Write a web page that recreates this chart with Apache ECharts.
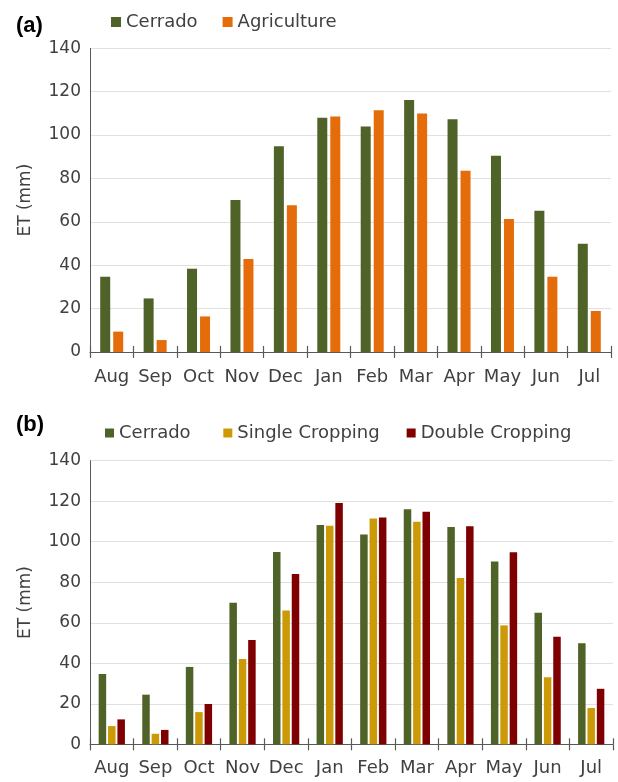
<!DOCTYPE html>
<html>
<head>
<meta charset="utf-8">
<script src="https://cdn.jsdelivr.net/npm/echarts@6/dist/echarts.min.js"></script>
<style>
html,body{margin:0;padding:0;background:#fff;}
#chart{width:618px;height:782px;}
</style>
</head>
<body>
<div id="chart"></div>
<script>
var months = ['Aug','Sep','Oct','Nov','Dec','Jan','Feb','Mar','Apr','May','Jun','Jul'];
var yTicks = [0,20,40,60,80,100,120,140];

// Panel (a)
var cerradoA = [34.7, 24.7, 38.4, 70.1, 94.8, 108.0, 103.9, 116.2, 107.3, 90.5, 65.1, 49.9];
var agriculture = [9.4, 5.5, 16.4, 42.9, 67.6, 108.6, 111.4, 110.0, 83.6, 61.3, 34.7, 18.9];

// Panel (b)
var cerradoB = [34.7, 24.5, 38.2, 69.9, 94.9, 108.2, 103.6, 116.0, 107.3, 90.3, 65.0, 49.9];
var singleCropping = [9.0, 5.2, 15.9, 42.1, 66.1, 107.9, 111.5, 109.9, 82.1, 58.7, 33.1, 17.9];
var doubleCropping = [12.3, 7.1, 19.9, 51.5, 84.1, 119.1, 112.0, 114.8, 107.7, 94.8, 53.1, 27.4];

var FONT = 'DejaVu Sans';
var C_GREEN = '#4f6228', C_ORANGE = '#e46c0a', C_YELLOW = '#cc9a06', C_RED = '#7f0000';
var TXT = '#404040';
var AXIS = '#595959';

function yAxis(gi){
  return {
    type:'value', gridIndex:gi, min:yTicks[0], max:yTicks[yTicks.length-1], interval:20,
    name:'ET (mm)', nameLocation:'middle', nameRotate:90, nameGap:56,
    nameTextStyle:{fontFamily:FONT,fontSize:17,color:TXT},
    axisLine:{show:true,lineStyle:{color:AXIS,width:1}},
    axisTick:{show:false},
    axisLabel:{fontFamily:FONT,fontSize:17,color:TXT,margin:9},
    splitLine:{show:true,lineStyle:{color:'#e0e0e0',width:1}}
  };
}
function xAxisMain(gi, margin){
  return {
    type:'category', gridIndex:gi, data:months, boundaryGap:true,
    axisLine:{show:true,lineStyle:{color:AXIS,width:1.2}},
    axisTick:{show:true,alignWithLabel:false,length:6,lineStyle:{color:AXIS,width:1.2}},
    axisLabel:{fontFamily:FONT,fontSize:18,color:TXT,margin:margin,interval:0},
    splitLine:{show:false}
  };
}
function xAxisInner(gi){
  return {
    type:'category', gridIndex:gi, data:months, boundaryGap:true, position:'bottom',
    axisLine:{show:false},
    axisTick:{show:true,inside:true,length:6,lineStyle:{color:AXIS,width:1.2}},
    axisLabel:{show:false},
    splitLine:{show:false}
  };
}

var option = {
  animation:false,
  backgroundColor:'#fff',
  textStyle:{fontFamily:FONT},
  grid:[
    {left:90, top:48.3, width:521, height:303.7},
    {left:90, top:460.7, width:523, height:283.6}
  ],
  legend:[
    {left:106, top:8, itemWidth:10, itemHeight:10, itemGap:25, icon:'rect',
     textStyle:{fontFamily:FONT,fontSize:18,color:TXT},
     data:['Cerrado','Agriculture']},
    {left:100, top:419, itemWidth:9, itemHeight:9, itemGap:27, icon:'rect',
     textStyle:{fontFamily:FONT,fontSize:18,color:TXT},
     data:['Cerrado ','Single Cropping','Double Cropping']}
  ],
  graphic:[
    {type:'text', left:16, top:15, style:{text:'(a)', font:'bold 22px "Liberation Sans"', fill:'#000'}},
    {type:'text', left:16, top:414, style:{text:'(b)', font:'bold 22px "Liberation Sans"', fill:'#000'}}
  ],
  xAxis:[xAxisMain(0,16), xAxisInner(0), xAxisMain(1,15), xAxisInner(1)],
  yAxis:[yAxis(0), yAxis(1)],
  series:[
    {name:'Cerrado', type:'bar', xAxisIndex:0, yAxisIndex:0, data:cerradoA,
     barWidth:10, barGap:'30%', itemStyle:{color:C_GREEN}},
    {name:'Agriculture', type:'bar', xAxisIndex:0, yAxisIndex:0, data:agriculture,
     barWidth:10, barGap:'30%', itemStyle:{color:C_ORANGE}},
    {name:'Cerrado ', type:'bar', xAxisIndex:2, yAxisIndex:1, data:cerradoB,
     barWidth:7.5, barGap:'25%', itemStyle:{color:C_GREEN}},
    {name:'Single Cropping', type:'bar', xAxisIndex:2, yAxisIndex:1, data:singleCropping,
     barWidth:7.5, barGap:'25%', itemStyle:{color:C_YELLOW}},
    {name:'Double Cropping', type:'bar', xAxisIndex:2, yAxisIndex:1, data:doubleCropping,
     barWidth:7.5, barGap:'25%', itemStyle:{color:C_RED}}
  ]
};
var chart = echarts.init(document.getElementById('chart'), null, {renderer:'canvas'});
chart.setOption(option);
</script>
</body>
</html>
